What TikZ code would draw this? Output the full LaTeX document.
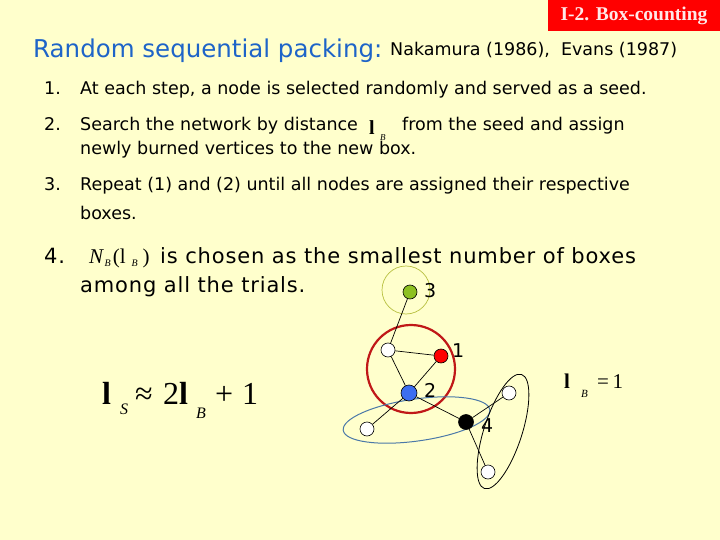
\documentclass[tikz,border=0pt]{standalone}
\usepackage{fontspec}
\setmainfont{Liberation Serif}
\newfontfamily\vrd{DejaVu Sans}
\newfontfamily\gul[LetterSpace=4]{DejaVu Sans}
\definecolor{bgy}{HTML}{FFFFCC}
\definecolor{ttlblue}{HTML}{1E64C8}
\definecolor{boxred}{HTML}{FF0000}
\definecolor{pinkw}{HTML}{FFE8E8}
\definecolor{olivec}{HTML}{B8C040}
\definecolor{darkred}{HTML}{C01818}
\definecolor{ellblue}{HTML}{4A78A8}
\definecolor{ngreen}{HTML}{8DC021}
\definecolor{nblue}{HTML}{3C6EF0}
\tikzset{
  txt/.style={anchor=base west, inner sep=0pt},
  itemtxt/.style={txt, font=\vrd\fontsize{17.5}{17.5}\selectfont},
  gultxt/.style={txt, font=\gul\fontsize{21}{21}\selectfont},
  eqtxt/.style={txt, font=\fontsize{32}{32}\selectfont},
  eqsub/.style={txt, font=\fontsize{16}{16}\selectfont\itshape},
  vtx/.style={circle, draw=black, line width=0.6pt, minimum size=14pt, inner sep=0pt},
  edge/.style={draw=black, line width=0.7pt},
  lbl/.style={txt, font=\vrd\fontsize{19}{19}\selectfont}
}
\begin{document}
\begin{tikzpicture}[x=1pt,y=-1pt]
\useasboundingbox (0,0) rectangle (720,540);
\fill[bgy] (0,0) rectangle (720,540);
% title box
\fill[boxred] (548,0) rectangle (720,31);
\node[font=\bfseries\fontsize{19.5}{19.5}\selectfont, text=pinkw, inner sep=0pt] (hdr) at (634,16) {I-2. Box-counting};
% heading
\node[txt, font=\vrd\fontsize{24.5}{24.5}\selectfont, text=ttlblue] (title) at (33,58) {Random sequential packing:};
\node[itemtxt] (refs) at (390,56) {Nakamura (1986),\ \ Evans (1987)};
% items
\node[itemtxt] (n1) at (44,95) {1.};
\node[itemtxt] (t1) at (80,95) {At each step, a node is selected randomly and served as a seed.};
\node[itemtxt] (n2) at (44,131) {2.};
\node[itemtxt] (t2a) at (80,131) {Search the network by distance};
\node[txt, font=\bfseries\fontsize{20}{20}\selectfont] (t2l) at (369,135) {l};
\node[txt, font=\fontsize{9}{9}\selectfont\itshape] (t2b) at (380,141) {B};
\node[itemtxt] (t2c) at (402,131) {from the seed and assign};
\node[itemtxt] (t2d) at (80,155) {newly burned vertices to the new box.};
\node[itemtxt] (n3) at (44,191) {3.};
\node[itemtxt] (t3a) at (80,191) {Repeat (1) and (2) until all nodes are assigned their respective};
\node[itemtxt] (t3b) at (80,220) {boxes.};
\node[gultxt] (n4) at (44,263) {4.};
\node[txt, font=\fontsize{21}{21}\selectfont] (nb) at (89,263) {\textit{N}\hspace{0.5pt}\raisebox{-3pt}{\fontsize{10}{10}\selectfont\itshape B}\hspace{2pt}(l\hspace{6pt}\raisebox{-3pt}{\fontsize{10}{10}\selectfont\itshape B}\hspace{5pt})};
\node[gultxt] (t4a) at (160,263) {is chosen as the smallest number of boxes};
\node[gultxt] (t4b) at (80,292) {among all the trials.};
% formula l_S ~ 2 l_B + 1
\node[eqtxt, font=\bfseries\fontsize{32}{32}\selectfont] (fl1) at (102,404) {l};
\node[eqsub] (fs) at (120,414) {S};
\node[eqtxt] (fap) at (135,404) {≈};
\node[eqtxt] (f2) at (163,404) {2};
\node[eqtxt, font=\bfseries\fontsize{32}{32}\selectfont] (fl2) at (179,404) {l};
\node[eqsub] (fb) at (196,418) {B};
\node[eqtxt] (fp) at (215,404) {+};
\node[eqtxt] (f1) at (242,404) {1};
% l_B = 1
\node[txt, font=\bfseries\fontsize{21}{21}\selectfont] (gl) at (564,388) {l};
\node[txt, font=\fontsize{11}{11}\selectfont\itshape] (gb) at (581,397) {B};
\node[txt, font=\fontsize{21}{21}\selectfont] (geq) at (597,388) {=\,1};
% boxes
\draw[olivec, line width=0.7pt] (406,290) circle (24pt);
\draw[darkred, line width=2.2pt] (411,369) circle (44pt);
\draw[ellblue, line width=1pt, rotate around={8:(416.5,420)}] (416.5,420) ellipse (74pt and 21pt);
\draw[black, line width=0.8pt, rotate around={72:(503,431.5)}] (503,431.5) ellipse (60pt and 19pt);
% vertices
\node[vtx, fill=ngreen] (v3) at (410,292) {};
\node[vtx, fill=white] (wa) at (388,350) {};
\node[vtx, fill=red] (v1) at (441,356) {};
\node[vtx, fill=nblue, minimum size=16pt] (v2) at (409,393) {};
\node[vtx, fill=black, minimum size=15pt] (v4) at (466,422) {};
\node[vtx, fill=white] (wb) at (367,429) {};
\node[vtx, fill=white] (wc) at (509,393) {};
\node[vtx, fill=white] (wd) at (488,472) {};
% edges
\path[edge] (v3) -- (wa);
\path[edge] (wa) -- (v1);
\path[edge] (wa) -- (v2);
\path[edge] (v1) -- (v2);
\path[edge] (v2) -- (wb);
\path[edge] (v2) -- (v4);
\path[edge] (v4) -- (wc);
\path[edge] (v4) -- (wd);
% labels
\node[lbl] (l3) at (424,297) {3};
\node[lbl] (l1) at (452,357) {1};
\node[lbl] (l2) at (424,397) {2};
\node[lbl] (l4) at (481,432) {4};
\end{tikzpicture}
\end{document}
